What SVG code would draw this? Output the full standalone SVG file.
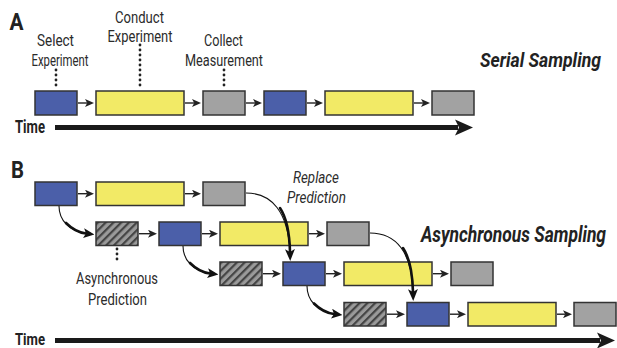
<svg xmlns="http://www.w3.org/2000/svg" width="617" height="348" viewBox="0 0 617 348">
<defs>
<style>
.bx{stroke:#333;stroke-width:1.5}
.blue{fill:#4b5fa9}
.yel{fill:#f2ea66}
.gry{fill:#a2a2a2}
.hat{fill:url(#hatch)}
.lbl{font-family:Roboto,"Liberation Sans",sans-serif;font-size:17px;fill:#2b2b2b}
.it{font-family:Roboto,"Liberation Sans",sans-serif;font-size:16.5px;font-style:italic;fill:#2b2b2b}
.ttl{font-family:Roboto,"Liberation Sans",sans-serif;font-weight:bold;font-style:italic;fill:#222}
.big{font-family:Roboto,"Liberation Sans",sans-serif;font-weight:bold;fill:#222}
.dot{stroke:#222;stroke-width:2.8;stroke-linecap:round;stroke-dasharray:0 5;fill:none}
.sa{stroke:#222;stroke-width:1.4;fill:none;marker-end:url(#sm)}
.thin{stroke:#111;stroke-width:1.1;fill:none}
.thk{stroke:#111;stroke-width:2.6;fill:none;stroke-linecap:round}
</style>
<pattern id="hatch" width="5.5" height="5.5" patternUnits="userSpaceOnUse" patternTransform="rotate(45)">
<rect width="5.5" height="5.5" fill="#9a9a9a"/>
<rect width="2.2" height="5.5" fill="#444"/>
</pattern>
<marker id="sm" viewBox="0 0 9 8" refX="2" refY="4" markerWidth="9" markerHeight="8" markerUnits="userSpaceOnUse" orient="auto">
<path d="M0,0 L9,4 L0,8 L2.2,4 z" fill="#222"/>
</marker>
<marker id="cv" viewBox="0 0 11 10" refX="2.5" refY="5" markerWidth="11" markerHeight="10" markerUnits="userSpaceOnUse" orient="auto">
<path d="M0,0 L11,5 L0,10 L2.5,5 z" fill="#111"/>
</marker>
<marker id="bg" viewBox="0 0 12 10" refX="3" refY="5" markerWidth="12" markerHeight="10" markerUnits="userSpaceOnUse" orient="auto">
<path d="M0,0 L12,5 L0,10 L3,5 z" fill="#111"/>
</marker>
</defs>

<!-- Panel A -->
<g id="labelA"><text class="big" x="9.5" y="30" font-size="24" textLength="14" lengthAdjust="spacingAndGlyphs">A</text></g>
<g id="labelSelect">
<text class="lbl" x="55.5" y="46" text-anchor="middle" textLength="37" lengthAdjust="spacingAndGlyphs">Select</text>
<text class="lbl" x="60" y="65.5" text-anchor="middle" textLength="57" lengthAdjust="spacingAndGlyphs">Experiment</text>
</g>
<g id="labelConduct">
<text class="lbl" x="139.5" y="23" text-anchor="middle" textLength="49" lengthAdjust="spacingAndGlyphs">Conduct</text>
<text class="lbl" x="140" y="42" text-anchor="middle" textLength="65" lengthAdjust="spacingAndGlyphs">Experiment</text>
</g>
<g id="labelCollect">
<text class="lbl" x="223.5" y="46" text-anchor="middle" textLength="39" lengthAdjust="spacingAndGlyphs">Collect</text>
<text class="lbl" x="224" y="65.5" text-anchor="middle" textLength="78" lengthAdjust="spacingAndGlyphs">Measurement</text>
</g>
<g id="titleSerial"><text class="ttl" x="480" y="67" font-size="20" textLength="121" lengthAdjust="spacingAndGlyphs">Serial Sampling</text></g>

<g id="a1"><rect class="bx blue" x="35" y="91" width="42" height="24"/></g>
<g id="a2"><rect class="bx yel" x="96" y="91" width="88" height="24"/></g>
<g id="a3"><rect class="bx gry" x="203" y="91" width="42" height="24"/></g>
<g id="a4"><rect class="bx blue" x="264" y="91" width="42" height="24"/></g>
<g id="a5"><rect class="bx yel" x="325" y="91" width="88" height="24"/></g>
<g id="a6"><rect class="bx gry" x="432" y="91" width="42" height="24"/></g>

<g id="timeA">
<text class="big" x="15" y="132.5" font-size="17.5" textLength="30" lengthAdjust="spacingAndGlyphs">Time</text>
<rect x="55" y="125" width="403" height="5" fill="#1a1a1a"/>
<path d="M455,119.5 L473,127.5 L455,135.5 L459,127.5 z" fill="#1a1a1a"/>
</g>

<!-- Panel B -->
<g id="labelB"><text class="big" x="11" y="177.5" font-size="24" textLength="13" lengthAdjust="spacingAndGlyphs">B</text></g>
<g id="labelReplace">
<text class="it" x="316" y="182.5" text-anchor="middle" textLength="46" lengthAdjust="spacingAndGlyphs">Replace</text>
<text class="it" x="316.5" y="202.5" text-anchor="middle" textLength="59" lengthAdjust="spacingAndGlyphs">Prediction</text>
</g>
<g id="titleAsync"><text class="ttl" transform="translate(421,242) scale(0.75,1)" x="0" y="0" font-size="22" textLength="246.7" lengthAdjust="spacingAndGlyphs">Asynchronous Sampling</text></g>
<g id="labelAsyncPred">
<text class="lbl" x="117" y="284" text-anchor="middle" textLength="82" lengthAdjust="spacingAndGlyphs">Asynchronous</text>
<text class="lbl" x="117.5" y="304.5" text-anchor="middle" textLength="59" lengthAdjust="spacingAndGlyphs">Prediction</text>
</g>

<g id="r1a"><rect class="bx blue" x="35" y="182" width="42" height="23.5"/></g>
<g id="r1b"><rect class="bx yel" x="96" y="182" width="88" height="23.5"/></g>
<g id="r1c"><rect class="bx gry" x="203" y="182" width="42" height="23.5"/></g>

<g id="r2h"><rect class="bx hat" x="96" y="222" width="42" height="23.5"/></g>
<g id="r2a"><rect class="bx blue" x="159" y="222" width="42" height="23.5"/></g>
<g id="r2b"><rect class="bx yel" x="220" y="222" width="88" height="23.5"/></g>
<g id="r2c"><rect class="bx gry" x="327" y="222" width="42" height="23.5"/></g>

<g id="r3h"><rect class="bx hat" x="220" y="262" width="42" height="23.5"/></g>
<g id="r3a"><rect class="bx blue" x="283" y="262" width="42" height="23.5"/></g>
<g id="r3b"><rect class="bx yel" x="344" y="262" width="88" height="23.5"/></g>
<g id="r3c"><rect class="bx gry" x="451" y="262" width="42" height="23.5"/></g>

<g id="r4h"><rect class="bx hat" x="344" y="302.5" width="42" height="23.5"/></g>
<g id="r4a"><rect class="bx blue" x="407" y="302.5" width="42" height="23.5"/></g>
<g id="r4b"><rect class="bx yel" x="468" y="302.5" width="88" height="23.5"/></g>
<g id="r4c"><rect class="bx gry" x="574" y="302.5" width="42" height="23.5"/></g>

<g id="timeB">
<text class="big" transform="translate(15,345) scale(0.76,1)" x="0" y="0" font-size="17" textLength="39.5" lengthAdjust="spacingAndGlyphs">Time</text>
<rect x="55" y="338" width="545" height="5" fill="#1a1a1a"/>
<path d="M597,332.5 L615,340.5 L597,348.5 L601,340.5 z" fill="#1a1a1a"/>
</g>

<g id="connectors">
<path class="dot" d="M56,70 V90"/>
<path class="dot" d="M140,45 V90"/>
<path class="dot" d="M224,70 V90"/>
<path class="dot" d="M117,249 V264"/>
<path class="sa" d="M78,103 H87"/>
<path class="sa" d="M185,103 H194"/>
<path class="sa" d="M246,103 H255"/>
<path class="sa" d="M307,103 H316"/>
<path class="sa" d="M414,103 H423"/>
<path class="sa" d="M78,193.7 H87"/>
<path class="sa" d="M185,193.7 H194"/>
<path class="sa" d="M139,233.7 H150"/>
<path class="sa" d="M202,233.7 H211"/>
<path class="sa" d="M309,233.7 H318"/>
<path class="sa" d="M263,273.7 H274"/>
<path class="sa" d="M326,273.7 H335"/>
<path class="sa" d="M433,273.7 H442"/>
<path class="sa" d="M387,314.2 H398"/>
<path class="sa" d="M450,314.2 H459"/>
<path class="sa" d="M557,314.2 H565"/>
<path class="thin" d="M59,206 C59,221 70,231 86,233.5"/>
<path class="thk" d="M66,223 C72,229 78,232.5 86,233.5" marker-end="url(#cv)"/>
<path class="thin" d="M183,246 C183,261 194,271 210,273.5"/>
<path class="thk" d="M190,263 C196,269 202,272.5 210,273.5" marker-end="url(#cv)"/>
<path class="thin" d="M307,286 C307,301 318,311.5 334,314"/>
<path class="thk" d="M314,303.5 C320,309.5 326,313 334,314" marker-end="url(#cv)"/>
<path class="thin" d="M246,193 C272,193 288,212 290,252"/>
<path class="thk" d="M280,208 C286,217 289.5,232 290,252" marker-end="url(#bg)"/>
<path class="thin" d="M370,233 C396,233 412,252 413,292"/>
<path class="thk" d="M403,248 C409,257 412.5,272 413,292" marker-end="url(#bg)"/>
</g>
</svg>
